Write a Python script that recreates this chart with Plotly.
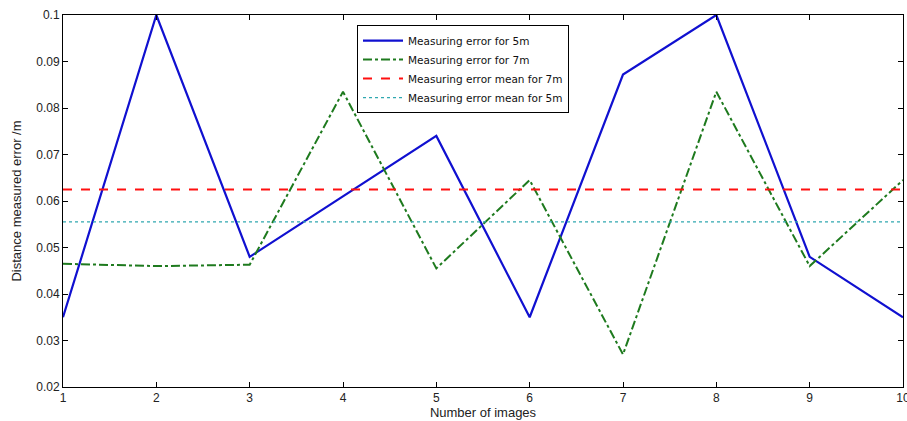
import plotly.graph_objects as go

images = [1, 2, 3, 4, 5, 6, 7, 8, 9, 10]
err_5m = [0.035, 0.1, 0.048, 0.061, 0.074, 0.035, 0.0872, 0.1, 0.048, 0.035]
err_7m = [0.0465, 0.046, 0.0463, 0.0835, 0.0455, 0.0645, 0.027, 0.0835, 0.046, 0.0645]
mean_7m_label = 0.0625
mean_5m_label = 0.0555
x_ticks = [1, 2, 3, 4, 5, 6, 7, 8, 9, 10]
y_ticks = [0.02, 0.03, 0.04, 0.05, 0.06, 0.07, 0.08, 0.09, 0.1]
y_tick_text = ["0.02", "0.03", "0.04", "0.05", "0.06", "0.07", "0.08", "0.09", "0.1"]

fig = go.Figure()
fig.add_trace(go.Scatter(x=images, y=err_5m, mode="lines", name="Measuring error for 5m",
                         line=dict(color="#1010d0", width=2.2)))
fig.add_trace(go.Scatter(x=images, y=err_7m, mode="lines", name="Measuring error for 7m",
                         line=dict(color="#1e7a1e", width=2, dash="dashdot")))
fig.add_trace(go.Scatter(x=[images[0], images[-1]], y=[mean_7m_label, mean_7m_label], mode="lines",
                         name="Measuring error mean for 7m",
                         line=dict(color="#ff1010", width=2, dash="dash")))
fig.add_trace(go.Scatter(x=[images[0], images[-1]], y=[mean_5m_label, mean_5m_label], mode="lines",
                         name="Measuring error mean for 5m",
                         line=dict(color="#30a8b0", width=1.2, dash="dot")))

axis_common = dict(showline=True, linecolor="black", linewidth=1, mirror="allticks",
                   ticks="inside", ticklen=5, tickcolor="black", showgrid=False, zeroline=False,
                   automargin=False, ticklabeloverflow="allow",
                   tickfont=dict(family="Arial", size=12, color="#222"))

fig.update_xaxes(range=[1, 10], tickvals=x_ticks,
                 title=dict(text="Number of images", font=dict(family="Arial", size=13, color="#222"),
                            standoff=2),
                 **axis_common)
fig.update_yaxes(range=[0.02, 0.1], tickvals=y_ticks, ticktext=y_tick_text,
                 title=dict(text="Distance measured error /m", font=dict(family="Arial", size=13, color="#222"),
                            standoff=11),
                 **axis_common)

fig.update_layout(
    width=907, height=421,
    margin=dict(l=63, r=4, t=15, b=34),
    plot_bgcolor="white", paper_bgcolor="white",
    font=dict(family="Arial", size=11, color="#222"),
    legend=dict(x=0.35, y=0.973, xanchor="left", yanchor="top",
                bordercolor="black", borderwidth=1, bgcolor="white",
                font=dict(family="DejaVu Sans", size=10.5, color="#111"),
                tracegroupgap=0, itemwidth=40),
    showlegend=True,
)

fig.write_html("out.html", config={"displayModeBar": False},
               post_script="document.body.style.margin='0';document.body.style.overflow='hidden';")
